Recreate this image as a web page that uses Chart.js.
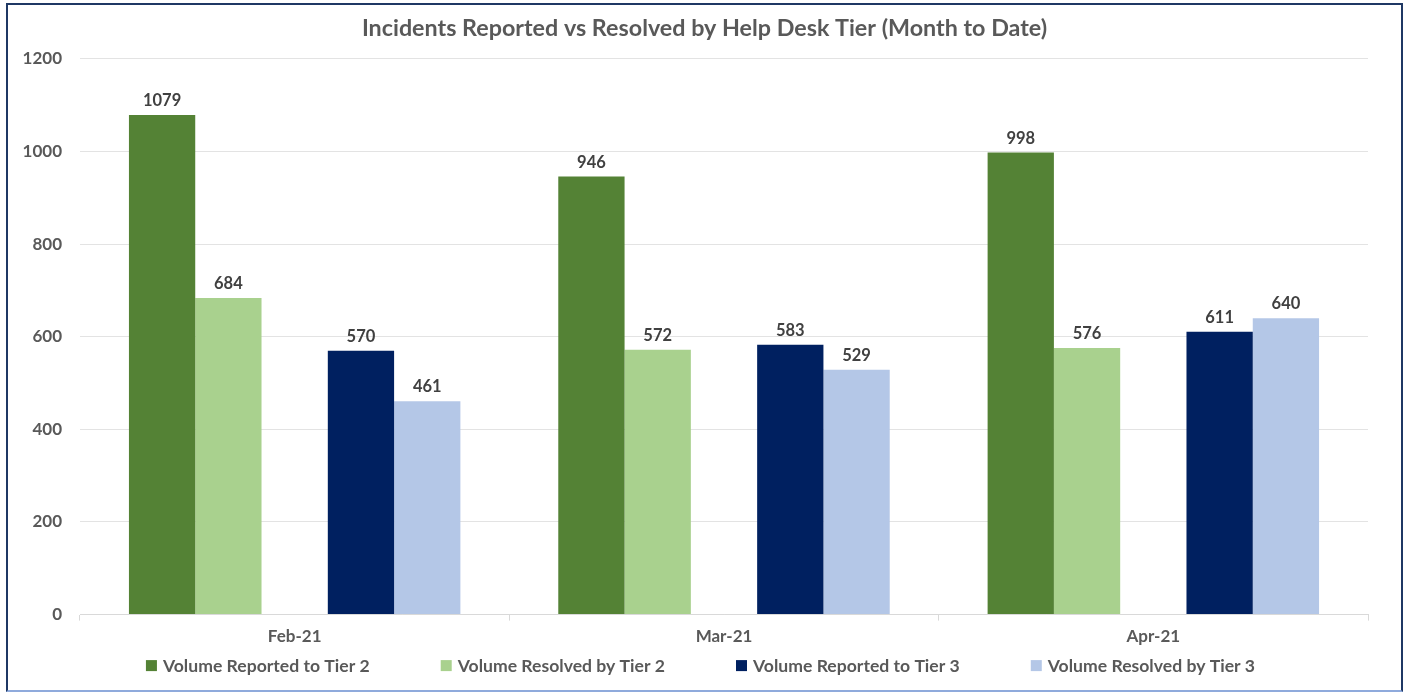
<!DOCTYPE html>
<html>
<head>
<meta charset="utf-8">
<script src="https://cdn.jsdelivr.net/npm/chart.js@4"></script>
<style>
  html, body { margin: 0; padding: 0; background: #fff; }
  #wrap {
    position: absolute; left: 6px; top: 3px; width: 1393px; height: 685px;
    border: 2px solid #1f3864; border-bottom-color: #8faadc; background: #fff;
  }
</style>
</head>
<body>
<div id="wrap"><canvas id="bar-chart"></canvas></div>
<script>
var months = ["Feb-21", "Mar-21", "Apr-21"];
var reportedTier2 = [1079, 946, 998];
var resolvedTier2 = [684, 572, 576];
var spacer = [null, null, null];
var reportedTier3 = [570, 583, 611];
var resolvedTier3 = [461, 529, 640];
var yTicks = [0, 200, 400, 600, 800, 1000, 1200];

var FONT = "Lato, 'Open Sans', sans-serif";

// value above each bar
var barLabels = {
  id: 'barLabels',
  afterDatasetsDraw: function(chart) {
    var ctx = chart.ctx;
    ctx.save();
    ctx.font = "bold 16.5px " + FONT;
    ctx.fillStyle = "#404040";
    ctx.textAlign = "center";
    ctx.textBaseline = "bottom";
    chart.data.datasets.forEach(function(ds, i) {
      if (ds.label === "") return;
      chart.getDatasetMeta(i).data.forEach(function(bar, j) {
        ctx.fillText(ds.data[j], bar.x, bar.y - 6);
      });
    });
    ctx.restore();
  }
};

// legend drawn by hand so the item spacing can match the original
var wideLegend = {
  id: 'wideLegend',
  afterDraw: function(chart) {
    var ctx = chart.ctx;
    var items = chart.data.datasets.filter(function(ds) { return ds.label !== ""; });
    var box = 11, gap = 6, spacing = 71;
    ctx.save();
    ctx.font = "bold 17.6px " + FONT;
    var widths = items.map(function(ds) { return box + gap + ctx.measureText(ds.label).width; });
    var total = widths.reduce(function(a, b) { return a + b; }, 0) + spacing * (items.length - 1);
    var x = (chart.width - total) / 2 - 4;
    var y = chart.chartArea.bottom + 51;
    ctx.textBaseline = "middle";
    ctx.textAlign = "left";
    items.forEach(function(ds, i) {
      ctx.fillStyle = ds.backgroundColor;
      ctx.fillRect(x, y - box / 2, box, box);
      ctx.fillStyle = "#595959";
      ctx.fillText(ds.label, x + box + gap, y + 1);
      x += widths[i] + spacing;
    });
    ctx.restore();
  }
};

new Chart(document.getElementById("bar-chart"), {
  type: 'bar',
  data: {
    labels: months,
    datasets: [
      { label: "Volume Reported to Tier 2", backgroundColor: "#548235", data: reportedTier2 },
      { label: "Volume Resolved by Tier 2", backgroundColor: "#a9d18e", data: resolvedTier2 },
      { label: "", backgroundColor: "rgba(0,0,0,0)", data: spacer },
      { label: "Volume Reported to Tier 3", backgroundColor: "#002060", data: reportedTier3 },
      { label: "Volume Resolved by Tier 3", backgroundColor: "#b4c7e7", data: resolvedTier3 }
    ]
  },
  options: {
    responsive: true,
    maintainAspectRatio: false,
    animation: false,
    categoryPercentage: 0.772,
    barPercentage: 1,
    layout: { padding: { left: 0, right: 0, top: 0, bottom: 37 } },
    plugins: {
      title: {
        display: true,
        text: 'Incidents Reported vs Resolved by Help Desk Tier (Month to Date)',
        color: "#595959",
        font: { family: FONT, size: 23.3, weight: 'bold' },
        padding: { top: 9, bottom: 17 }
      },
      legend: { display: false },
      tooltip: { enabled: false }
    },
    scales: {
      x: {
        grid: { display: true, drawOnChartArea: false, drawTicks: true, tickLength: 6, offset: true, color: "#d9d9d9" },
        border: { display: true, color: "#d9d9d9" },
        ticks: { color: "#595959", font: { family: FONT, size: 17, weight: 'bold' }, padding: 6 }
      },
      y: {
        min: 0,
        max: 1200,
        afterBuildTicks: function(axis) { axis.ticks = yTicks.map(function(v) { return { value: v }; }); },
        afterFit: function(axis) { axis.width = 72; },
        grid: { color: "#e3e3e3", drawTicks: false },
        border: { display: false },
        ticks: {
          color: "#595959",
          font: { family: FONT, size: 17, weight: 'bold' },
          padding: 18,
          callback: function(v) { return String(v); }
        }
      },
      // empty right-hand axis, only keeps the right margin so the title stays centred
      yRight: {
        type: 'linear',
        position: 'right',
        afterFit: function(axis) { axis.width = 33; },
        grid: { display: false },
        border: { display: false },
        ticks: { display: false }
      }
    }
  },
  plugins: [barLabels, wideLegend]
});
</script>
</body>
</html>
